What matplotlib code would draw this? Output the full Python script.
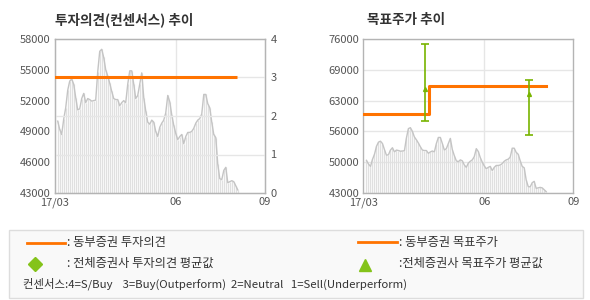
import matplotlib
matplotlib.use("Agg")
import matplotlib.pyplot as plt
from matplotlib.patches import Rectangle
from matplotlib.lines import Line2D

plt.rcParams['font.family'] = ['Noto Sans CJK KR', 'DejaVu Sans']

# Daily closing price (trading-day index 0..90)
price = [50000, 49200, 48700, 50200, 51300, 53000, 53900, 54100, 53600, 52300,
         51100, 51200, 52200, 52700, 51800, 52200, 52100, 51950, 52000, 52050,
         54800, 56800, 57000, 56200, 55000, 54400, 53700, 52900, 52200, 52100,
         52100, 51500, 51800, 52000, 51800, 53600, 54900, 54900, 53600, 52200,
         52500, 53600, 54700, 52300, 51000, 49900, 49700, 50100, 49900, 49000,
         48500, 49400, 49800, 50100, 50800, 52500, 51900, 50600, 49600, 48800,
         48200, 48500, 48700, 47800, 48500, 48900, 48900, 49000, 49300, 49800,
         50100, 50250, 50700, 52600, 52600, 51700, 51300, 49900, 48700, 48400,
         45800, 44400, 44300, 45200, 45500, 44000, 44100, 44200, 44100, 43700,
         43300]
days = list(range(len(price)))

# Investment opinion (consensus scale 1-4)
opinion_x = [-1.75, 89.5]
opinion_y = [3, 3]

# Target price history (step changes)
target_x = [-1.6, 31.3, 89.8]
target_y = [60000, 66000, 66000]

# Industry-wide target price range and average
avg_x = [29.2, 81.3]
avg_high = [75000, 67200]
avg_low = [58400, 55400]
avg_mean = [65300, 64200]

x_ticks = [-1.6, 59, 103.6]
x_labels = ['17/03', '06', '09']
left_ticks = [43000, 46000, 49000, 52000, 55000, 58000]
opinion_ticks = [0, 1, 2, 3, 4]
tp_ticks = [43000, 49600, 56200, 62800, 69400, 76000]
tp_labels = ['43000', '50000', '56000', '63000', '69000', '76000']

ORANGE = '#ff7300'
GREEN = '#78b400'
LINE_GRAY = '#c4c4c4'
BAR_GRAY = '#e0e0e0'
GRID = '#e6e6e6'
SPINE = '#b4b4b4'
TICK_COLOR = '#555555'

fig = plt.figure(figsize=(5.9, 3.0), dpi=100)
fig.patch.set_facecolor('white')


def style_axes(ax):
    for s in ax.spines.values():
        s.set_color(SPINE)
        s.set_linewidth(1.0)
    ax.tick_params(length=0, labelsize=8, colors=TICK_COLOR, pad=3)
    ax.set_xlim(x_ticks[0], x_ticks[-1])
    ax.set_xticks(x_ticks)
    ax.set_xticklabels(x_labels)


def draw_price(ax, floor):
    ax.vlines(days, floor, price, color=BAR_GRAY, linewidth=0.9, zorder=1)
    ax.plot(days, price, color=LINE_GRAY, linewidth=1.0, zorder=2)


# ---- left panel: investment opinion ----
axL = fig.add_axes([54.5 / 590, 1 - 193 / 300, 210.5 / 590, 154 / 300])
style_axes(axL)
axL.set_ylim(43000, 58000)
axL.set_yticks(left_ticks)
axL.set_yticklabels([str(v) for v in left_ticks])
axL.axvline(59, color=GRID, linewidth=1.0, zorder=0)
draw_price(axL, 43000)

axR = axL.twinx()
axR.set_ylim(0, 4)
axR.set_yticks(opinion_ticks)
for s in axR.spines.values():
    s.set_color(SPINE)
axR.tick_params(length=0, labelsize=8, colors=TICK_COLOR, pad=4)
for v in opinion_ticks[1:-1]:
    axR.axhline(v, color=GRID, linewidth=1.0, zorder=0)
axR.plot(opinion_x, opinion_y, color=ORANGE, linewidth=2.2, zorder=5,
         solid_capstyle='butt')
axL.set_zorder(0)
axR.patch.set_visible(False)

fig.text(55 / 590, 1 - 20 / 300, '투자의견(컨센서스) 추이', fontsize=9.8,
         fontweight='bold', color='#333333', va='center', ha='left')

# ---- right panel: target price ----
axT = fig.add_axes([363.3 / 590, 1 - 193 / 300, 210 / 590, 154 / 300])
style_axes(axT)
axT.set_ylim(43000, 76000)
axT.set_yticks(tp_ticks)
axT.set_yticklabels(tp_labels)
axT.yaxis.grid(True, color=GRID, linewidth=1.0)
axT.axvline(59, color=GRID, linewidth=1.0, zorder=0)
axT.set_axisbelow(True)
draw_price(axT, 43000)
axT.plot(target_x, target_y, drawstyle='steps-post', color=ORANGE,
         linewidth=2.2, zorder=5)
axT.vlines(avg_x, avg_low, avg_high, color=GREEN, linewidth=1.2, zorder=6)
axT.hlines(avg_high, [x - 2 for x in avg_x], [x + 2 for x in avg_x],
           color=GREEN, linewidth=1.2, zorder=6)
axT.hlines(avg_low, [x - 2 for x in avg_x], [x + 2 for x in avg_x],
           color=GREEN, linewidth=1.2, zorder=6)
axT.plot(avg_x, avg_mean, linestyle='none', marker='^', markersize=2.8,
         color=GREEN, zorder=7)

fig.text(367 / 590, 1 - 20 / 300, '목표주가 추이', fontsize=9.8,
         fontweight='bold', color='#333333', va='center', ha='left')

# ---- legend panel ----
fig.patches.append(Rectangle((8.5 / 590, 1 - 297.5 / 300), 574 / 590, 68 / 300,
                             transform=fig.transFigure, facecolor='#f9f9f9',
                             edgecolor='#dddddd', linewidth=1.0, zorder=0))


def fx(px):
    return px / 590


def fy(py):
    return 1 - py / 300


leg_font = 8.8
fig.add_artist(Line2D([fx(26.5), fx(65)], [fy(242.5), fy(242.5)],
                      color=ORANGE, linewidth=2.0))
fig.text(fx(67), fy(242.5), ': 동부증권 투자의견', fontsize=leg_font,
         color='#333333', va='center', ha='left')
fig.add_artist(Line2D([fx(35)], [fy(263.5)], marker='D', markersize=7.5,
                      color='#84c31a', linestyle='none'))
fig.text(fx(67), fy(263.5), ': 전체증권사 투자의견 평균값', fontsize=leg_font,
         color='#333333', va='center', ha='left')
fig.add_artist(Line2D([fx(358), fx(397)], [fy(241.5), fy(241.5)],
                      color=ORANGE, linewidth=2.0))
fig.text(fx(399), fy(242.5), ': 동부증권 목표주가', fontsize=leg_font,
         color='#333333', va='center', ha='left')
fig.add_artist(Line2D([fx(365.5)], [fy(265)], marker='^', markersize=8,
                      color='#84c31a', linestyle='none'))
fig.text(fx(399), fy(263.5), ':전체증권사 목표주가 평균값', fontsize=leg_font,
         color='#333333', va='center', ha='left')
fig.text(fx(23.5), fy(284), '컨센서스:4=S/Buy    3=Buy(Outperform)  2=Neutral   '
         '1=Sell(Underperform)', fontsize=8.2, color='#333333', va='center',
         ha='left')

fig.savefig('out.png', dpi=100)
